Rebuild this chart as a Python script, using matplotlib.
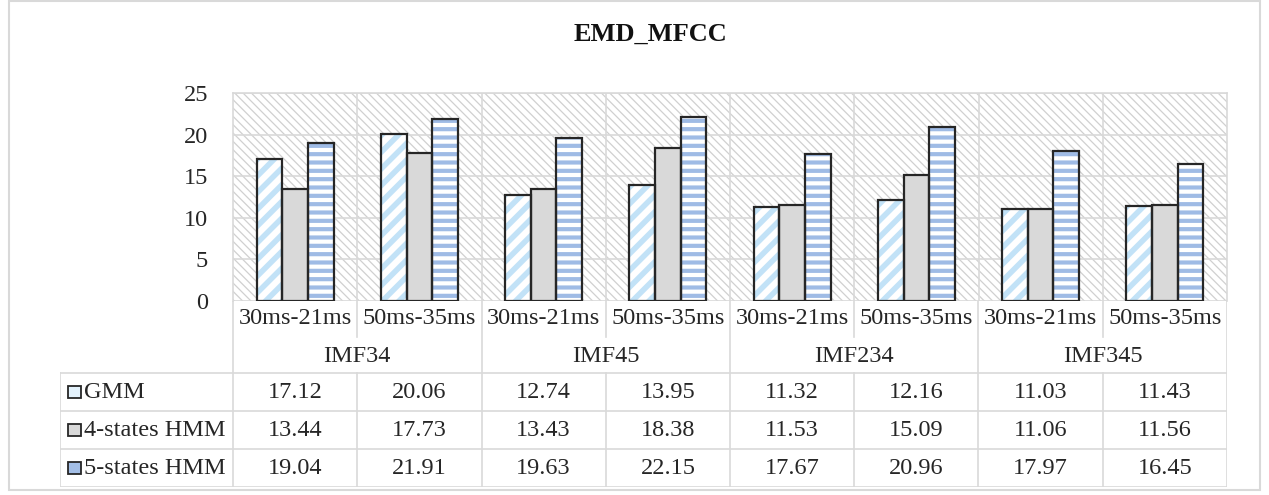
import matplotlib
matplotlib.use("Agg")
import matplotlib.pyplot as plt
from matplotlib.patches import Rectangle
import numpy as np

plt.rcParams["font.family"] = ["Liberation Serif", "DejaVu Serif"]

# data
categories = ["30ms-21ms", "50ms-35ms"] * 4
groups = ["IMF34", "IMF45", "IMF234", "IMF345"]
series = ["GMM", "4-states HMM", "5-states HMM"]
gmm = [17.12, 20.06, 12.74, 13.95, 11.32, 12.16, 11.03, 11.43]
hmm4 = [13.44, 17.73, 13.43, 18.38, 11.53, 15.09, 11.06, 11.56]
hmm5 = [19.04, 21.91, 19.63, 22.15, 17.67, 20.96, 17.97, 16.45]
values = [gmm, hmm4, hmm5]

W, H = 1269, 495
fig = plt.figure(figsize=(W / 100, H / 100), dpi=100)

line_c = "#d9d9d9"
text_c = "#262626"
edge_c = "#262626"


def fx(px):
    return px / W


def fy(py):
    return 1 - py / H


# outer chart border
fig.patches.append(Rectangle((fx(9), fy(490)), fx(1260) - fx(9), fy(1) - fy(490),
                             transform=fig.transFigure, fill=False,
                             edgecolor=line_c, linewidth=1.5))

fig.text(fx(650), fy(34), "EMD_MFCC", ha="center", va="center",
         fontsize=19, fontweight="bold", color="#111111")

left, right, top, bottom = 233, 1227, 93, 301
ax = fig.add_axes([fx(left), fy(bottom), fx(right) - fx(left), fy(top) - fy(bottom)])
ax.set_xlim(-0.5, 7.5)
ax.set_ylim(0, 25)
ax.set_yticks(range(0, 26, 5))
ax.set_xticks([])
ax.tick_params(axis="y", length=0, pad=18, labelsize=17.5, labelcolor=text_c)
for s in ax.spines.values():
    s.set_color(line_c)
    s.set_linewidth(1.2)
ax.spines["bottom"].set_visible(False)
ax.set_axisbelow(True)
ax.grid(axis="y", color=line_c, linewidth=1.2, zorder=0.5)
for xb in np.arange(0.5, 7, 1):
    ax.axvline(xb, color=line_c, linewidth=1.2, zorder=0.5)


def hatch_lw(artist, lw):
    if hasattr(artist, "set_hatch_linewidth"):
        artist.set_hatch_linewidth(lw)


# hatched background of the plot area
plt.rcParams["hatch.linewidth"] = 0.9
bg = Rectangle((0, 0), 1, 1, transform=ax.transAxes, facecolor="white",
               edgecolor="#d0d0d0", hatch="\\\\\\\\", linewidth=0, zorder=0.1)
hatch_lw(bg, 0.9)
ax.add_patch(bg)

x = np.arange(len(categories))
bw = 0.207
offsets = [-bw, 0, bw]
styles = [
    dict(face="white", hatch="//", hc="#c2e2f7", hlw=4.0),
    dict(face="#d9d9d9", hatch=None, hc=None, hlw=1.0),
    dict(face="white", hatch="--", hc="#9fbbe5", hlw=3.0),
]
for vals, off, st in zip(values, offsets, styles):
    plt.rcParams["hatch.linewidth"] = st["hlw"]
    if st["hatch"]:
        bars = ax.bar(x + off, vals, bw, color=st["face"], hatch=st["hatch"],
                      edgecolor=st["hc"], linewidth=0, zorder=2)
        for b in bars:
            hatch_lw(b, st["hlw"])
    else:
        ax.bar(x + off, vals, bw, color=st["face"], linewidth=0, zorder=2)
    ax.bar(x + off, vals, bw, fill=False, edgecolor=edge_c, linewidth=1.6, zorder=3)
plt.rcParams["hatch.linewidth"] = 1.0

# data table below the plot
tb_bottom = 487
label_left = 60
col_w = (right - left) / 8
xl = -0.5 - (left - label_left) / col_w
tab = fig.add_axes([fx(label_left), fy(tb_bottom), fx(right) - fx(label_left),
                    fy(bottom) - fy(tb_bottom)])
tab.set_xlim(xl, 7.5)
tab.set_ylim(tb_bottom - bottom, 0)
tab.axis("off")

rows = [72, 110, 148, 186]
lk = dict(color=line_c, linewidth=1.2)
for r in rows:
    tab.plot([xl, 7.5], [r, r], **lk)
tab.plot([xl, xl], [72, 186], **lk)
for xb in [-0.5, 1.5, 3.5, 5.5, 7.5]:
    tab.plot([xb, xb], [0, 186], **lk)
for xb in [0.5, 2.5, 4.5, 6.5]:
    tab.plot([xb, xb], [0, 36], **lk)
    tab.plot([xb, xb], [72, 186], **lk)

fs = 17.5
for i, c in enumerate(categories):
    tab.text(i, 17, c, ha="center", va="center", fontsize=fs, color=text_c)
for g, name in enumerate(groups):
    tab.text(2 * g + 0.5, 55, name, ha="center", va="center", fontsize=fs, color=text_c)

key_colors = ["#e3f2fc", "#d9d9d9", "#a3bee6"]
for k, (name, vals) in enumerate(zip(series, values)):
    yc = (rows[k] + rows[k + 1]) / 2
    tab.add_patch(Rectangle((xl + 8 / col_w, yc - 6), 13 / col_w, 12,
                            facecolor=key_colors[k], edgecolor=edge_c, linewidth=1.3))
    tab.text(xl + 24 / col_w, yc, name, ha="left", va="center", fontsize=fs, color=text_c)
    for i, v in enumerate(vals):
        tab.text(i, yc, f"{v:.2f}", ha="center", va="center", fontsize=fs, color=text_c)

fig.savefig("out.png", dpi=100)
